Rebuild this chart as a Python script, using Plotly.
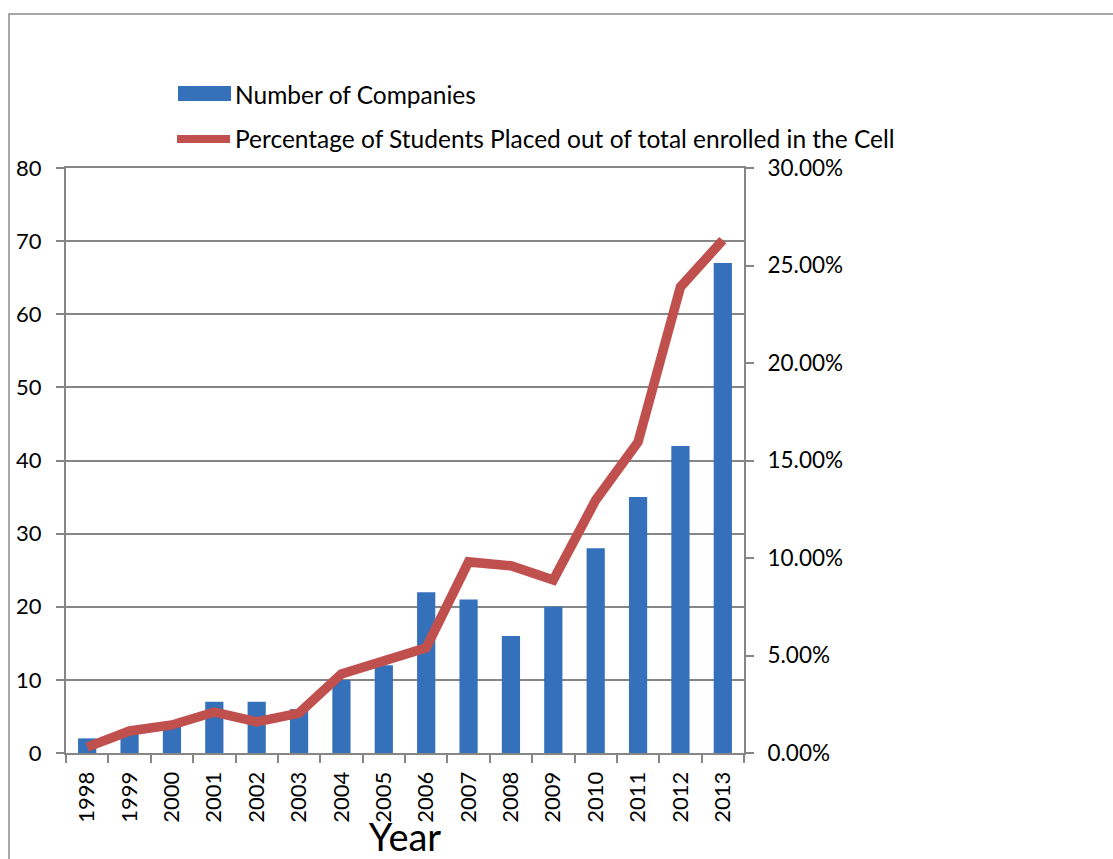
import plotly.graph_objects as go

years = ["1998", "1999", "2000", "2001", "2002", "2003", "2004", "2005",
         "2006", "2007", "2008", "2009", "2010", "2011", "2012", "2013"]
companies = [2, 3, 4, 7, 7, 6, 10, 12, 22, 21, 16, 20, 28, 35, 42, 67]
placed_pct = [0.003, 0.0113, 0.0144, 0.021, 0.016, 0.0205, 0.0405, 0.0477,
              0.054, 0.098, 0.096, 0.0887, 0.1297, 0.1595, 0.239, 0.263]
left_ticks = [0, 10, 20, 30, 40, 50, 60, 70, 80]
right_ticks = [0, 0.05, 0.10, 0.15, 0.20, 0.25, 0.30]
bar_name = "Number of Companies"
line_name = "Percentage of Students Placed out of total enrolled in the Cell"

FONT = "Lato, 'Open Sans', sans-serif"
W, H = 1113, 859
L, R, T, B = 66, 744, 168, 753
pw, ph = R - L, B - T

def px(x):
    return (x - L) / pw

def py(y):
    return (B - y) / ph

BAR_COLOR = "#3571bb"
LINE_COLOR = "#c0504d"
grid = "#868686"

fig = go.Figure()
fig.add_trace(go.Bar(
    x=years, y=companies, name=bar_name,
    marker=dict(color=BAR_COLOR, line=dict(width=0)),
    yaxis="y", showlegend=False,
))
fig.add_trace(go.Scatter(
    x=years, y=placed_pct, mode="lines", name=line_name,
    line=dict(color=LINE_COLOR, width=9.5),
    yaxis="y2", showlegend=False,
))

shapes = [
    dict(type="path", xref="paper", yref="paper",
         path=f"M {px(9)} {py(880)} L {px(9)} {py(14)} L {px(1130)} {py(14)}",
         line=dict(color="#8a8a8a", width=1.5)),
    dict(type="rect", xref="paper", yref="paper",
         x0=px(178), x1=px(231), y0=py(86), y1=py(101),
         fillcolor=BAR_COLOR, line=dict(width=0)),
    dict(type="line", xref="paper", yref="paper",
         x0=px(177), x1=px(230), y0=py(139), y1=py(139),
         line=dict(color=LINE_COLOR, width=8)),
]
annotations = [
    dict(text=bar_name, xref="paper", yref="paper", x=px(233), y=py(94),
         xanchor="left", yanchor="middle", showarrow=False,
         font=dict(size=24.5, family=FONT, color="black")),
    dict(text=line_name, xref="paper", yref="paper", x=px(233), y=py(139),
         xanchor="left", yanchor="middle", showarrow=False,
         font=dict(size=24.5, family=FONT, color="black")),
]

fig.update_layout(
    width=W, height=H, autosize=False,
    margin=dict(l=L, r=W - R, t=T, b=H - B, pad=0, autoexpand=False),
    paper_bgcolor="white", plot_bgcolor="white",
    font=dict(family=FONT, size=22, color="black"),
    bargap=0.57,
    showlegend=False,
    xaxis=dict(type="category", tickangle=-90, showgrid=False,
               ticks="outside", ticklen=8, tickcolor=grid, tickwidth=1.5,
               tickson="boundaries", showline=True, linecolor=grid,
               linewidth=2, mirror=True, tickfont=dict(size=22),
               ticklabelstandoff=8, automargin=False,
               title=dict(text="Year", font=dict(size=38), standoff=0)),
    yaxis=dict(range=[0, 80], tickvals=left_ticks, showgrid=True,
               gridcolor=grid, gridwidth=2, showline=True, linecolor=grid,
               linewidth=2, ticks="outside", ticklen=8, tickcolor=grid,
               tickwidth=1.5, tickfont=dict(size=22), zeroline=False,
               ticklabelstandoff=10, automargin=False),
    yaxis2=dict(range=[0, 0.30], tickvals=right_ticks, tickformat=".2%",
                overlaying="y", side="right", showgrid=False,
                showline=True, linecolor=grid, linewidth=2,
                ticks="outside", ticklen=8, tickcolor=grid, tickwidth=1.5,
                tickfont=dict(size=22.5), zeroline=False,
                ticklabelstandoff=9, automargin=False),
    shapes=shapes,
    annotations=annotations,
)

fig.write_html(
    "out.html",
    config={"displayModeBar": False},
    post_script="document.body.style.margin='0';document.body.style.overflow='hidden';",
)
